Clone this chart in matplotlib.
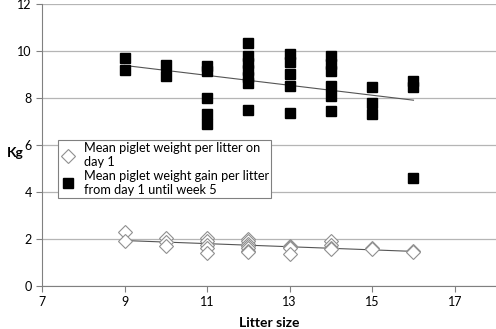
import numpy as np
import matplotlib
matplotlib.use("Agg")
import matplotlib.pyplot as plt

plt.rcParams['font.family'] = ['Lato', 'DejaVu Sans']

# Mean piglet weight gain per litter (day 1 - week 5)
gain_x = [9, 9,
          10, 10,
          11, 11, 11, 11, 11,
          12, 12, 12, 12, 12, 12, 12,
          13, 13, 13, 13, 13,
          14, 14, 14, 14, 14, 14,
          15, 15, 15,
          16, 16, 16]
gain_y = [9.7, 9.2,
          9.4, 8.95,
          9.35, 9.15, 8.0, 7.3, 6.9,
          10.35, 9.8, 9.5, 9.2, 8.9, 8.65, 7.5,
          9.85, 9.55, 9.0, 8.5, 7.35,
          9.8, 9.45, 9.15, 8.5, 8.1, 7.45,
          8.45, 7.8, 7.3,
          8.7, 8.45, 4.6]

# Mean piglet weight per litter on day 1
wt_x = [9, 9,
        10, 10, 10,
        11, 11, 11, 11, 11,
        12, 12, 12, 12, 12, 12, 12,
        13, 13, 13, 13,
        14, 14, 14, 14,
        15, 15,
        16, 16]
wt_y = [2.3, 1.9,
        2.05, 1.85, 1.7,
        2.05, 1.9, 1.75, 1.6, 1.4,
        2.0, 1.9, 1.8, 1.7, 1.6, 1.5, 1.45,
        1.7, 1.65, 1.6, 1.35,
        1.9, 1.75, 1.6, 1.55,
        1.6, 1.55,
        1.5, 1.45]

x_ticks = [7, 9, 11, 13, 15, 17]
y_ticks = [0, 2, 4, 6, 8, 10, 12]

fig = plt.figure(figsize=(4.96, 3.29), dpi=100)
ax = fig.add_axes([0.085, 0.131, 0.915, 0.857])

ax.plot(wt_x, wt_y, linestyle='none', marker='D', markersize=7,
        markerfacecolor='white', markeredgecolor='#909090', markeredgewidth=0.8,
        label='Mean piglet weight per litter on\nday 1', zorder=3)
ax.plot(gain_x, gain_y, linestyle='none', marker='s', markersize=6.5,
        color='black', label='Mean piglet weight gain per litter\nfrom day 1 until week 5', zorder=3)

# Linear trend lines
for xs, ys in ((wt_x, wt_y), (gain_x, gain_y)):
    k, b = np.polyfit(xs, ys, 1)
    lx = np.array([min(xs), max(xs)])
    ax.plot(lx, k * lx + b, color='#555555', linewidth=0.8, zorder=2)

ax.set_xlim(7, 18)
ax.set_ylim(0, 12)
ax.set_xticks(x_ticks)
ax.set_yticks(y_ticks)
ax.yaxis.grid(True, color='#b5b5b5', linewidth=0.9)
ax.set_axisbelow(True)
for s in ('top', 'right'):
    ax.spines[s].set_visible(False)
for s in ('left', 'bottom'):
    ax.spines[s].set_color('#808080')
ax.tick_params(colors='#808080', labelcolor='black', labelsize=9, length=4)

ax.set_xlabel('Litter size', fontsize=10, fontweight='bold', labelpad=6)
ax.set_ylabel('Kg', fontsize=10, fontweight='bold', rotation=0, va='center', ha='center')
ax.yaxis.set_label_coords(-0.06, 0.47)

leg = ax.legend(loc='upper left', bbox_to_anchor=(0.035, 0.518), fontsize=9.2,
                frameon=True, fancybox=False, framealpha=1, edgecolor='#808080',
                handlelength=1.2, handletextpad=0.6, borderpad=0.2, labelspacing=0.1,
                borderaxespad=0)
leg.get_frame().set_linewidth(0.8)

fig.savefig('out.png', dpi=100)
